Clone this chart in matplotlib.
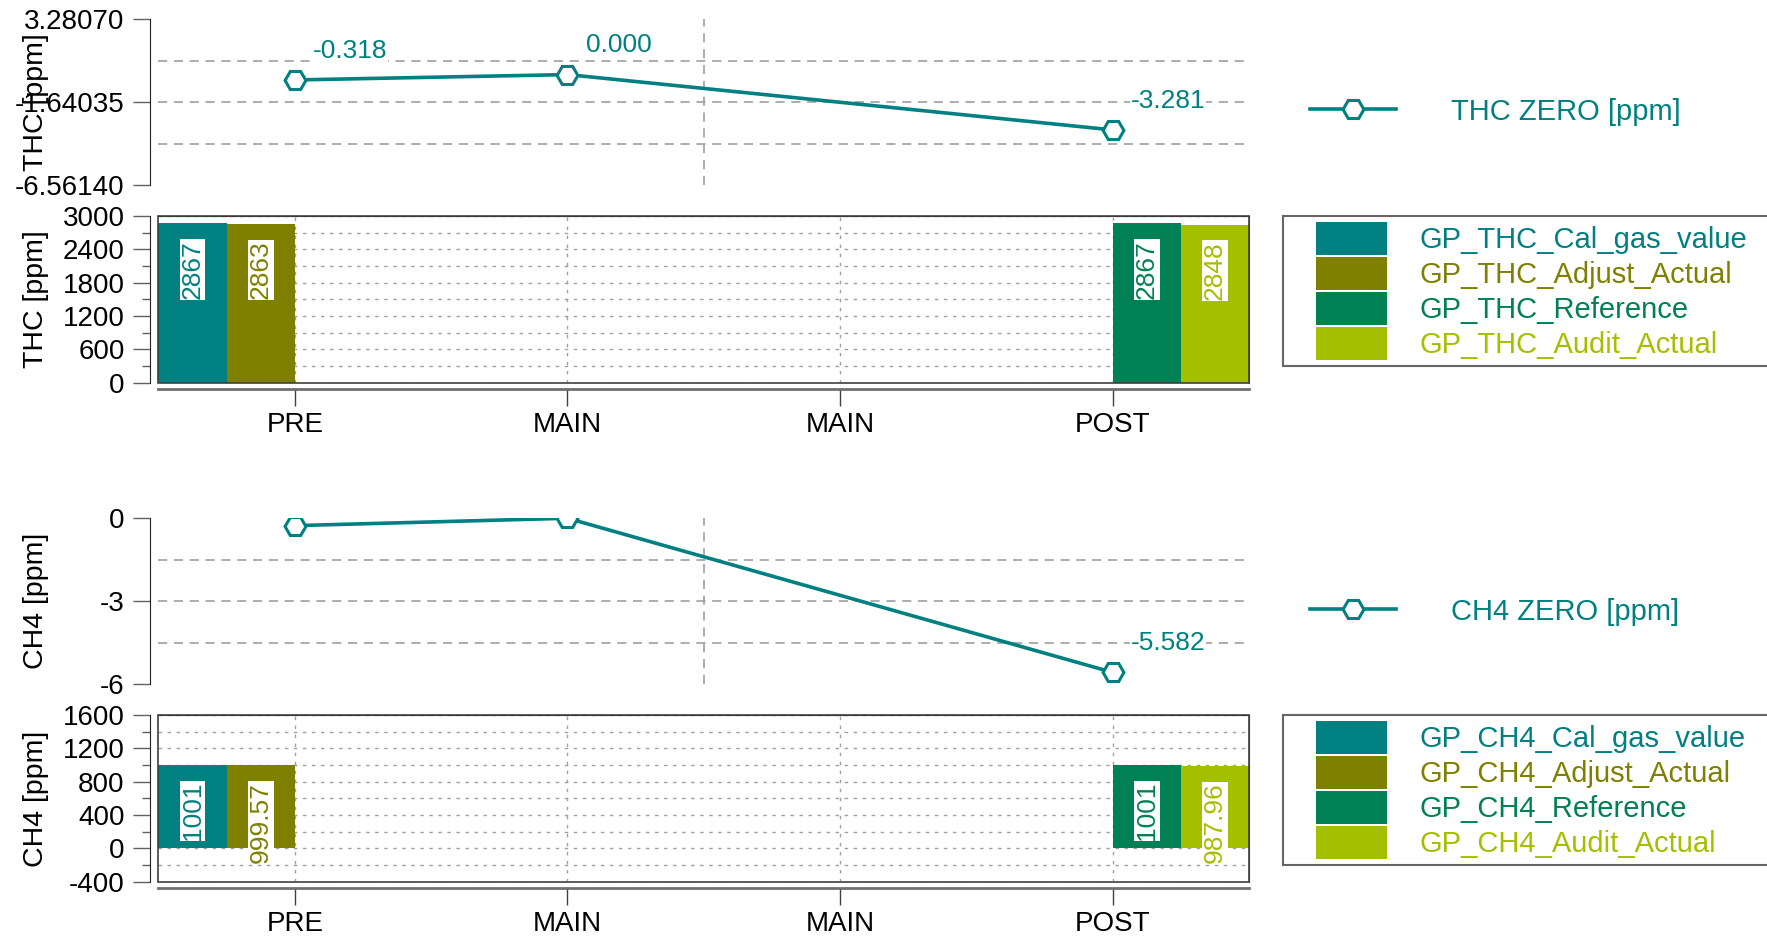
import numpy as np
import matplotlib
matplotlib.use("Agg")
import matplotlib.pyplot as plt
from matplotlib.patches import Rectangle
from matplotlib.legend_handler import HandlerPatch
from matplotlib.ticker import MultipleLocator, FormatStrFormatter

plt.rcParams['font.family'] = ['Liberation Sans', 'DejaVu Sans']
plt.rcParams['axes.unicode_minus'] = False

nan = np.nan
categories = ['PRE', 'MAIN', 'MAIN', 'POST']

# zero checks (line panels)
thc_zero = [-0.318, 0.000, nan, -3.281]
ch4_zero = [-0.268, 0.000, nan, -5.582]

# span checks (bar panels)
thc_names = ['GP_THC_Cal_gas_value', 'GP_THC_Adjust_Actual', 'GP_THC_Reference', 'GP_THC_Audit_Actual']
thc_cal_gas = [2867, nan, nan, nan]
thc_adjust = [2863, nan, nan, nan]
thc_reference = [nan, nan, nan, 2867]
thc_audit = [nan, nan, nan, 2848]

ch4_names = ['GP_CH4_Cal_gas_value', 'GP_CH4_Adjust_Actual', 'GP_CH4_Reference', 'GP_CH4_Audit_Actual']
ch4_cal_gas = [1001, nan, nan, nan]
ch4_adjust = [999.57, nan, nan, nan]
ch4_reference = [nan, nan, nan, 1001]
ch4_audit = [nan, nan, nan, 987.96]

teal = '#008080'
bar_colors = ['#008080', '#808000', '#008055', '#A3C000']
grid_c = '#A0A0A0'
tick_c = '#606060'

fig = plt.figure(figsize=(17.67, 9.39), dpi=100)
L, W = 0.0897, 0.6172
ax_thc_line = fig.add_axes([L, 0.8027, W, 0.1768])
ax_thc_bar = fig.add_axes([L, 0.5924, W, 0.1775])
ax_ch4_line = fig.add_axes([L, 0.2716, W, 0.1765])
ax_ch4_bar = fig.add_axes([L, 0.0610, W, 0.1775])

x = np.arange(len(categories))


def line_panel(ax, values, ylim, fmt, ylabel, legend_label, legend_y):
    vals = np.array(values, dtype=float)
    ok = np.isfinite(vals)
    ax.set_xlim(-0.5, len(categories) - 0.5)
    ax.set_ylim(*ylim)
    lo, hi = ylim
    ax.set_yticks(np.linspace(lo, hi, 3))
    ax.yaxis.set_major_formatter(FormatStrFormatter(fmt))
    for g in np.linspace(lo, hi, 5)[1:-1]:
        ax.axhline(g, color=grid_c, lw=1.2, ls=(0, (5.5, 4)), zorder=1)
    ax.axvline(1.5, color=grid_c, lw=1.2, ls=(0, (5.5, 4)), zorder=1)
    ln, = ax.plot(x[ok], vals[ok], color=teal, lw=2.6, marker='H', ms=15,
                  mfc='white', mec=teal, mew=2.2, zorder=3)
    for xi, v in zip(x[ok], vals[ok]):
        t = ax.annotate('%.3f' % v, xy=(xi, v), xytext=(13, 21),
                        textcoords='offset points', ha='left', va='center',
                        color=teal, fontsize=19,
                        bbox=dict(fc='white', ec='none', pad=0.5), zorder=4)
        t.set_clip_path(ax.patch)
        t.set_clip_on(True)
    for s in ['top', 'right', 'bottom']:
        ax.spines[s].set_visible(False)
    ax.spines['left'].set_position(('outward', 5.8))
    ax.spines['left'].set_color('#202020')
    ax.tick_params(axis='x', bottom=False, labelbottom=False)
    ax.tick_params(axis='y', length=12, width=1, color=tick_c, labelsize=20, pad=6.5)
    ax.set_ylabel(ylabel, fontsize=20.5)
    ax.yaxis.set_label_coords(-0.1004, 0.5)
    leg = ax.legend([ln], [legend_label], loc='center left',
                    bbox_to_anchor=(0.7414, legend_y), bbox_transform=fig.transFigure,
                    frameon=False, borderpad=0, borderaxespad=0, fontsize=21,
                    handlelength=2.95, handletextpad=1.88)
    for t in leg.get_texts():
        t.set_color(teal)


def shifted_patch(legend, orig_handle, xdescent, ydescent, width, height, fontsize):
    pw = 51.1
    return Rectangle((-xdescent + width - pw, -ydescent), pw, height)


def bar_panel(ax, series, names, ylim, major, minor, ylabel, legend_top):
    n = len(series)
    wbar = 1.0 / n
    handles = []
    for i, (vals, c) in enumerate(zip(series, bar_colors)):
        vals = np.array(vals, dtype=float)
        ok = np.isfinite(vals)
        xs = x[ok] + (i - (n - 1) / 2) * wbar
        bars = ax.bar(xs, vals[ok], width=wbar, color=c, zorder=2)
        handles.append(bars[0] if len(bars) else Rectangle((0, 0), 1, 1, color=c))
        for xi, v in zip(xs, vals[ok]):
            ax.annotate('%g' % v, xy=(xi, v), xytext=(0, -12), textcoords='offset points',
                        rotation=90, ha='center', va='top', color=c, fontsize=19,
                        bbox=dict(fc='white', ec='none', pad=0.6), zorder=4)
    ax.set_xlim(-0.5, len(categories) - 0.5)
    ax.set_ylim(*ylim)
    ax.set_xticks(x)
    ax.set_xticklabels(categories)
    ax.yaxis.set_major_locator(MultipleLocator(major))
    ax.yaxis.set_minor_locator(MultipleLocator(minor))
    ax.yaxis.grid(True, which='both', color=grid_c, lw=1.0, ls=(0, (2.5, 4)))
    ax.xaxis.grid(True, which='major', color=grid_c, lw=1.0, ls=(0, (2.5, 4)))
    ax.set_axisbelow(True)
    ax.spines['left'].set_position(('outward', 5.8))
    ax.spines['bottom'].set_position(('outward', 4.75))
    ax.spines['left'].set_color('#202020')
    ax.spines['bottom'].set_color('#707070')
    ax.spines['bottom'].set_linewidth(2)
    ax.spines['top'].set_color('#202020')
    ax.spines['right'].set_color('#404040')
    ax.add_patch(Rectangle((0, 0), 1, 1, transform=ax.transAxes, fill=False,
                           ec='#404040', lw=1.2, clip_on=False, zorder=5))
    ax.tick_params(axis='y', which='major', length=12, width=1, color=tick_c,
                   labelsize=20, pad=6.5)
    ax.tick_params(axis='y', which='minor', length=5.5, width=1, color=tick_c)
    ax.tick_params(axis='x', length=12, width=1, color='#404040', labelsize=20, pad=4)
    ax.set_ylabel(ylabel, fontsize=20.5)
    ax.yaxis.set_label_coords(-0.1004, 0.5)
    leg = ax.legend(handles, names, loc='upper left', mode='expand',
                    bbox_to_anchor=(0.7261, legend_top - 0.2, 0.3, 0.2),
                    bbox_transform=fig.transFigure, fontsize=21, fancybox=False,
                    borderpad=0.2, borderaxespad=0, handlelength=3.36,
                    handleheight=1.364, handletextpad=1.13, labelspacing=0.07,
                    handler_map={Rectangle: HandlerPatch(patch_func=shifted_patch)})
    leg.get_frame().set_edgecolor('#404040')
    leg.get_frame().set_linewidth(1.5)
    for t, c in zip(leg.get_texts(), bar_colors):
        t.set_color(c)


line_panel(ax_thc_line, thc_zero, (-6.56140, 3.28070), '%.5f', 'THC [ppm]',
           'THC ZERO [ppm]', 0.8811)
bar_panel(ax_thc_bar, [thc_cal_gas, thc_adjust, thc_reference, thc_audit], thc_names,
          (0, 3000), 600, 300, 'THC [ppm]', 0.770)
line_panel(ax_ch4_line, ch4_zero, (-6, 0), '%g', 'CH4 [ppm]',
           'CH4 ZERO [ppm]', 0.3486)
bar_panel(ax_ch4_bar, [ch4_cal_gas, ch4_adjust, ch4_reference, ch4_audit], ch4_names,
          (-400, 1600), 400, 200, 'CH4 [ppm]', 0.2385)

fig.savefig('out.png', dpi=100)
